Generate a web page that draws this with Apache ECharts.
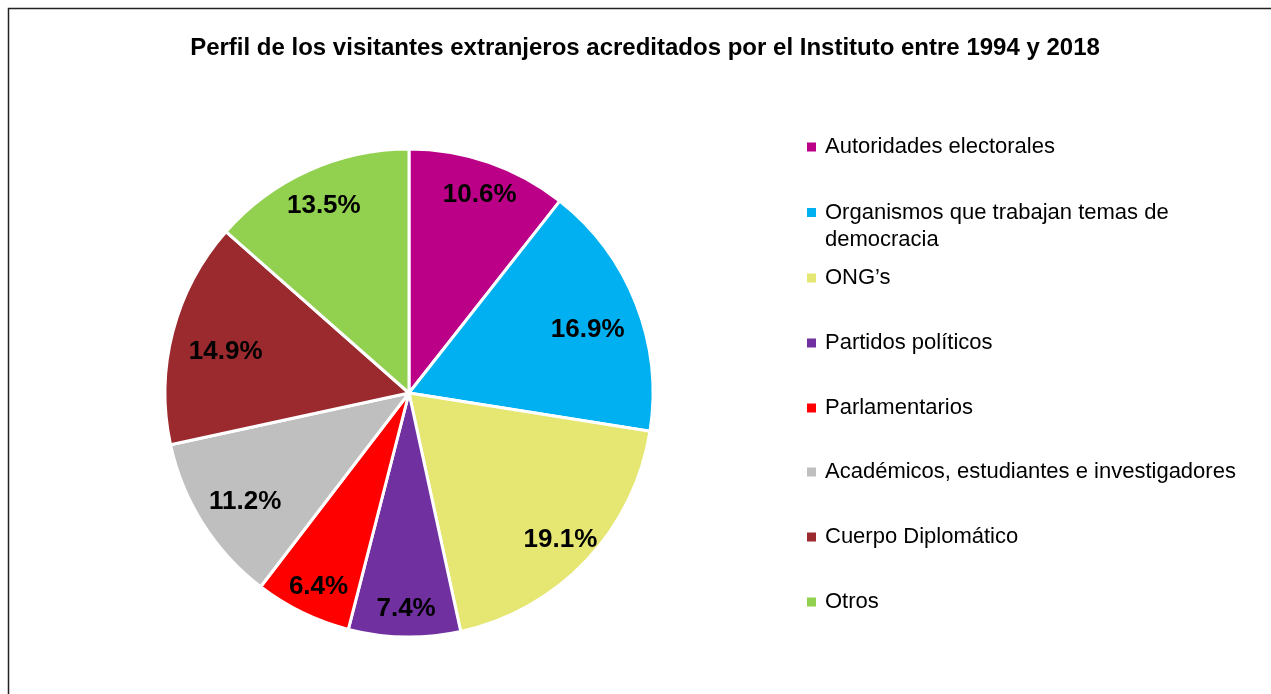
<!DOCTYPE html>
<html>
<head>
<meta charset="utf-8">
<script src="https://cdn.jsdelivr.net/npm/echarts@6/dist/echarts.min.js"></script>
<style>
  html, body { margin: 0; padding: 0; background: #fff; }
  #chart { width: 1271px; height: 694px; }
</style>
</head>
<body>
<div id="chart"></div>
<script>
// data
const categories = [
  "Autoridades electorales",
  "Organismos que trabajan temas de\ndemocracia",
  "ONG’s",
  "Partidos políticos",
  "Parlamentarios",
  "Académicos, estudiantes e investigadores",
  "Cuerpo Diplomático",
  "Otros",
];
const shares = [10.6, 16.9, 19.1, 7.4, 6.4, 11.2, 14.9, 13.5];
const colors = ["#BB0087", "#00B0F0", "#E6E673", "#7030A0", "#FF0000", "#BFBFBF", "#9B2A2E", "#92D050"];

const FONT = "'Liberation Sans', Arial, sans-serif";
const pieData = categories.map((name, i) => ({
  name,
  value: shares[i],
  itemStyle: { color: colors[i] },
}));

// Excel "best fit" puts the labels a bit off a plain circle, small nudges
const labelNudge = [[3, -3], [-14, 12], [1, 5], [1, 9], [0, 8], [11, -2], [17, 11], [0, 1]];

// one legend per row so the two-line item keeps its icon on the first line
const legendCenters = [147, 212, 278, 343, 408, 472, 537, 602];
const legends = categories.map((name, i) => {
  const twoLines = name.indexOf("\n") >= 0;
  return {
    data: [name],
    orient: "vertical",
    left: 807,
    top: legendCenters[i] - (twoLines ? 40 : 13),
    padding: 0,
    icon: "rect",
    itemWidth: 9,
    itemHeight: 9,
    itemGap: 0,
    selectedMode: false,
    itemStyle: { borderWidth: 0 },
    // empty first line keeps "Organismos..." level with its icon
    formatter: (n) => (n.indexOf("\n") >= 0 ? "\n" + n : n),
    textStyle: {
      fontFamily: FONT,
      fontSize: 22,
      lineHeight: twoLines ? 27 : 26,
      color: "#000",
      padding: [0, 0, 0, 4],
    },
  };
});

const option = {
  animation: false,
  backgroundColor: "#fff",
  title: {
    text: "Perfil de los visitantes extranjeros acreditados por el Instituto entre 1994 y 2018",
    left: 640,
    textAlign: "center",
    top: 31,
    textStyle: {
      fontFamily: FONT,
      fontSize: 24,
      fontWeight: "bold",
      color: "#000",
    },
  },
  legend: legends,
  graphic: [
    {
      type: "rect",
      shape: { x: 8.5, y: 8.5, width: 1300, height: 700 },
      style: { fill: "none", stroke: "#222", lineWidth: 1.5 },
      silent: true,
      z: 100,
    },
  ],
  series: [
    {
      name: "perfil",
      type: "pie",
      center: [409, 393],
      radius: [0, 244],
      startAngle: 90,
      clockwise: true,
      label: { show: false },
      labelLine: { show: false },
      itemStyle: { borderColor: "#fff", borderWidth: 3 },
      emphasis: { disabled: true },
      data: pieData,
    },
    {
      // invisible ring, only carries the percentage labels further out
      name: "etiquetas",
      type: "pie",
      center: [409, 393],
      radius: [164, 244],
      startAngle: 90,
      clockwise: true,
      silent: true,
      itemStyle: { color: "rgba(0,0,0,0)", borderWidth: 0 },
      emphasis: { disabled: true },
      label: {
        show: true,
        position: "inside",
        formatter: (p) => p.value.toFixed(1) + "%",
        fontFamily: FONT,
        fontSize: 26,
        fontWeight: "bold",
        color: "#000",
      },
      labelLine: { show: false },
      data: categories.map((name, i) => ({
        name,
        value: shares[i],
        label: { offset: labelNudge[i] },
      })),
    },
  ],
};

const chart = echarts.init(document.getElementById("chart"));
chart.setOption(option);
</script>
</body>
</html>
